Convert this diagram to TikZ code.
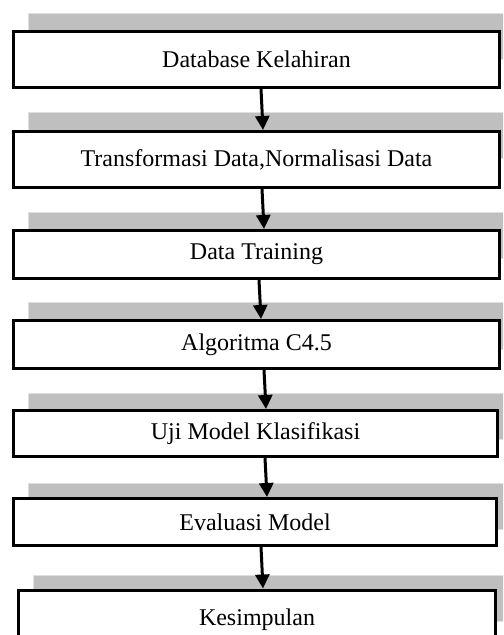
\documentclass[tikz,border=0pt]{standalone}
\usepackage{fontspec}
\setmainfont{Liberation Serif}
\usetikzlibrary{arrows.meta,calc}

\begin{document}
\begin{tikzpicture}[x=0.5pt,y=-0.5pt,
    tahap/.style={draw=black, line width=1.5pt, fill=white, inner sep=0pt,
                  font=\fontsize{12}{14}\selectfont},
    bayang/.style={fill=gray!50, draw=gray!25, line width=0.5pt},
    alur/.style={line width=1.5pt, -{Triangle[width=7pt,length=7pt]}}]

   \useasboundingbox (0,0) rectangle (503,635);
   \clip (0,0) rectangle (503,635);

   % gray strips behind the boxes
   \foreach \y in {14,113,213,303,393,483}
   {
     \filldraw[bayang] (28,\y) rectangle (510,\y+46);
   }
   \filldraw[bayang] (33,575) rectangle (510,621);

   \node[tahap, minimum width=243pt, minimum height=28pt] (db) at (256.5,59.5) {Database Kelahiran};
   \node[tahap, minimum width=243pt, minimum height=28pt] (tr) at (256.5,159.5) {Transformasi Data,Normalisasi Data};
   \node[tahap, minimum width=243pt, minimum height=24pt] (dt) at (256.5,254.5) {Data Training};
   \node[tahap, minimum width=243pt, minimum height=24pt] (c45) at (256.5,344.5) {Algoritma C4.5};
   \node[tahap, minimum width=242pt, minimum height=23pt] (uji) at (255.5,433.5) {Uji Model Klasifikasi};
   \node[tahap, minimum width=241.5pt, minimum height=23.5pt] (eval) at (255,522) {Evaluasi Model};
   \node[tahap, minimum width=238.5pt, minimum height=30pt] (kes) at (257,620) {Kesimpulan};

   \draw[alur] ($(db.south)+(4.5,0)$) -- ($(tr.north)+(6.5,0)$);
   \draw[alur] ($(tr.south)+(5.5,0)$) -- ($(dt.north)+(7.5,0)$);
   \draw[alur] ($(dt.south)+(2.5,0)$) -- ($(c45.north)+(4.5,0)$);
   \draw[alur] ($(c45.south)+(7.5,0)$) -- ($(uji.north)+(10.5,0)$);
   \draw[alur] ($(uji.south)+(9.5,0)$) -- ($(eval.north)+(12,0)$);
   \draw[alur] ($(eval.south)+(6,0)$) -- ($(kes.north)+(6,0)$);

\end{tikzpicture}
\end{document}
